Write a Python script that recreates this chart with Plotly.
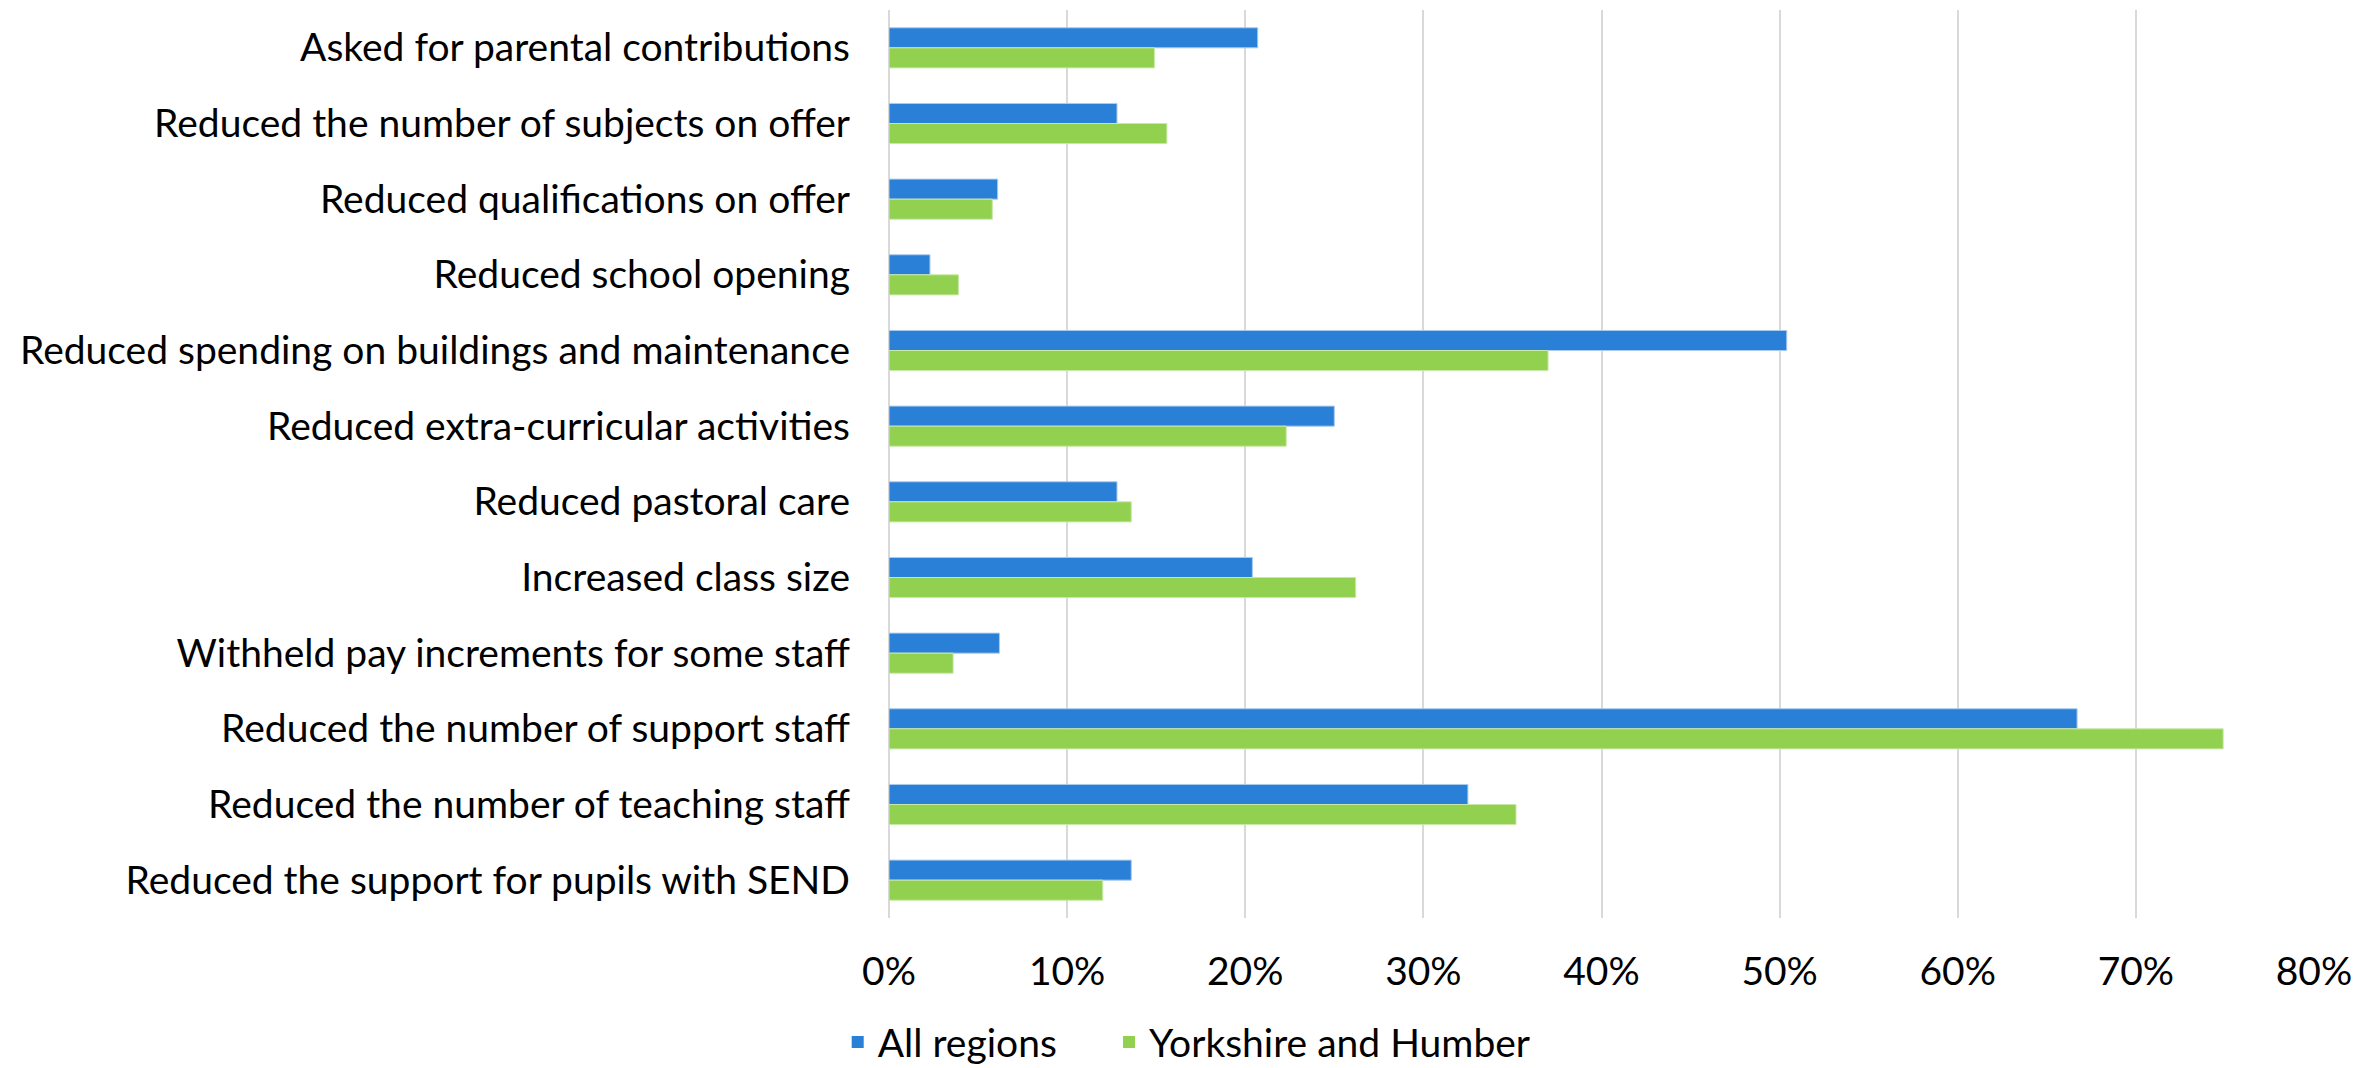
import plotly.graph_objects as go

categories = [
    "Asked for parental contributions",
    "Reduced the number of subjects on offer",
    "Reduced qualifications on offer",
    "Reduced school opening",
    "Reduced spending on buildings and maintenance",
    "Reduced extra-curricular activities",
    "Reduced pastoral care",
    "Increased class size",
    "Withheld pay increments for some staff",
    "Reduced the number of support staff",
    "Reduced the number of teaching staff",
    "Reduced the support for pupils with SEND",
]
all_regions = [20.7, 12.8, 6.1, 2.3, 50.4, 25.0, 12.8, 20.4, 6.2, 66.7, 32.5, 13.6]
yorkshire = [14.9, 15.6, 5.8, 3.9, 37.0, 22.3, 13.6, 26.2, 3.6, 74.9, 35.2, 12.0]
x_ticks = [0, 10, 20, 30, 40, 50, 60, 70, 80]
x_tick_labels = [f"{v}%" for v in x_ticks]
series_names = ["All regions", "Yorkshire and Humber"]
series_colors = ["#2A7FD6", "#92D050"]

FONT = "Lato, 'Open Sans', sans-serif"
FS = 39

fig = go.Figure()
fig.add_trace(go.Bar(
    y=categories, x=all_regions, orientation="h", name=series_names[0],
    marker=dict(color=series_colors[0], line=dict(color="#A9CBEF", width=1)),
    showlegend=False,
))
fig.add_trace(go.Bar(
    y=categories, x=yorkshire, orientation="h", name=series_names[1],
    marker=dict(color=series_colors[1], line=dict(color="#C8E8A8", width=1)),
    showlegend=False,
))
# legend keys (one legend box each, placed like the original)
for name, color, lg in zip(series_names, series_colors, ["legend", "legend2"]):
    fig.add_trace(go.Scatter(
        x=[None], y=[None], mode="markers", name=name, legend=lg,
        marker=dict(symbol="square", size=20, color=color),
        showlegend=True,
    ))

legend_common = dict(orientation="h", y=-0.172, yanchor="bottom", xanchor="left",
                     font=dict(family=FONT, size=FS, color="#000000"),
                     itemwidth=30, tracegroupgap=0, itemsizing="constant",
                     bgcolor="rgba(0,0,0,0)")

fig.update_layout(
    width=2379, height=1068,
    margin=dict(l=889, r=65, t=10, b=150, autoexpand=False),
    paper_bgcolor="white", plot_bgcolor="white",
    barmode="group", bargap=0.47, bargroupgap=0,
    font=dict(family=FONT, size=FS, color="#000000"),
    showlegend=True,
    legend=dict(x=-0.036, **legend_common),
    legend2=dict(x=0.1544, **legend_common),
    xaxis=dict(range=[0, 80], tickmode="array", tickvals=x_ticks, ticktext=x_tick_labels,
               showgrid=True, gridcolor="#D9D9D9", gridwidth=1.5,
               zeroline=True, zerolinecolor="#D9D9D9", zerolinewidth=1.5,
               showline=False, ticks="", ticklabelstandoff=27,
               tickfont=dict(family=FONT, size=FS, color="#000000"), fixedrange=True),
    yaxis=dict(autorange="reversed", showgrid=False, showline=False, ticks="",
               ticklabelstandoff=38,
               tickfont=dict(family=FONT, size=FS, color="#000000"), fixedrange=True),
)

fig.write_html("out.html")
